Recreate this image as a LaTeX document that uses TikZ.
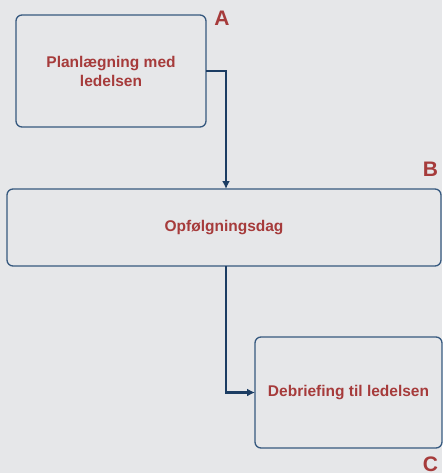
\documentclass[tikz,border=0pt]{standalone}
\usepackage{fontspec}
\setmainfont{Liberation Sans}
\usetikzlibrary{arrows.meta}
\definecolor{bgcol}{HTML}{E6E7E9}
\definecolor{txtred}{HTML}{A63B3B}
\definecolor{boxblue}{HTML}{36597F}
\definecolor{linenavy}{HTML}{1C3D63}
\tikzset{stepbox/.style={draw=boxblue, line width=1.3pt, rounded corners=6pt,
        inner sep=0, outer sep=0, align=center, text=txtred,
        font=\bfseries\fontsize{15.5}{19}\selectfont}}
\tikzset{letter/.style={inner sep=0, outer sep=0, text=txtred,
        font=\bfseries\fontsize{21}{21}\selectfont}}
\tikzset{conn/.style={draw=linenavy, line width=2.5pt,
        -{Latex[length=8pt,width=8pt]}}}

\begin{document}
\begin{tikzpicture}[x=1pt,y=-1pt]
% Background
\fill[bgcol] (0,0) rectangle (442,473);
\useasboundingbox (0,0) rectangle (442,473);
% Boxes
\node[stepbox, minimum width=190pt, minimum height=112pt] (plan) at (111,71) {Planlægning med\\ledelsen};
\node[stepbox, minimum width=434pt, minimum height=77pt] (dag) at (224,227.5) {Opfølgningsdag};
\node[stepbox, minimum width=187pt, minimum height=111pt] (debrief) at (348.5,392.5) {Debriefing til ledelsen};
% Letters
\node[letter] (la) at (222,18.5) {A};
\node[letter] (lb) at (430.5,169.5) {B};
\node[letter] (lc) at (430.5,464) {C};
% Connectors
\draw[conn] (plan.east) -| ([xshift=2pt]dag.north);
\draw[conn] ([xshift=2pt]dag.south) |- (debrief.west);
\end{tikzpicture}
\end{document}
